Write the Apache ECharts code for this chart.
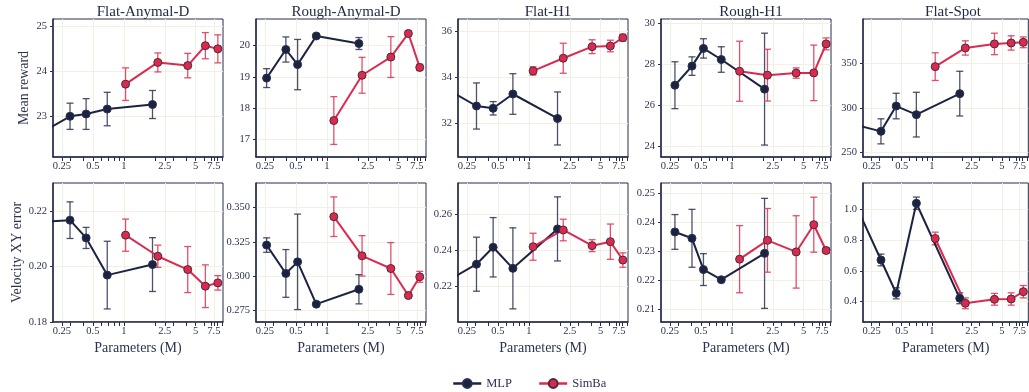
<!DOCTYPE html>
<html>
<head>
<meta charset="utf-8">
<script src="https://cdn.jsdelivr.net/npm/echarts@6/dist/echarts.min.js"></script>
<style>
  html, body { margin: 0; padding: 0; background: #fff; }
  #chart { width: 1029px; height: 392px; }
</style>
</head>
<body>
<div id="chart"></div>
<script>
const TASKS = ["Flat-Anymal-D", "Rough-Anymal-D", "Flat-H1", "Rough-H1", "Flat-Spot"];
const X_LABELS = [0.25, 0.5, 1, 2.5, 5, 7.5];
const X_TICKS = [0.2, 0.25, 0.3, 0.4, 0.5, 0.6, 0.7, 0.8, 0.9, 1, 2, 2.5, 3, 4, 5, 6, 7, 7.5, 8, 9];

// each point: [parameters (M), mean, std]
const MLP_REWARD = [
  [[0.17, 22.68, 0], [0.30, 23.00, 0.29], [0.43, 23.05, 0.34], [0.69, 23.16, 0.37], [1.9, 23.26, 0.31]],
  [[0.26, 18.96, 0.30], [0.40, 19.87, 0.40], [0.52, 19.39, 0.80], [0.79, 20.30, 0.05], [2.05, 20.06, 0.19]],
  [[0.17, 33.41, 0], [0.31, 32.74, 1.00], [0.45, 32.64, 0.29], [0.70, 33.26, 0.88], [1.9, 32.20, 1.15]],
  [[0.28, 26.99, 1.14], [0.41, 27.92, 0.45], [0.53, 28.78, 0.47], [0.79, 28.24, 0.62], [2.08, 26.80, 2.72]],
  [[0.17, 281.4, 0], [0.31, 273.9, 14], [0.44, 302.2, 14.3], [0.70, 292.6, 25], [1.9, 316.1, 25]]
];
const SIMBA_REWARD = [
  [[1.04, 23.71, 0.36], [2.14, 24.19, 0.21], [4.18, 24.12, 0.27], [6.2, 24.56, 0.29], [8.2, 24.49, 0.31]],
  [[1.17, 17.61, 0.76], [2.2, 19.05, 0.57], [4.19, 19.63, 0.65], [6.2, 20.38, 0.05], [8.0, 19.30, 0.10]],
  [[1.10, 34.26, 0.18], [2.16, 34.81, 0.65], [4.12, 35.31, 0.30], [6.2, 35.34, 0.25], [8.2, 35.70, 0.15]],
  [[1.19, 27.67, 1.46], [2.22, 27.48, 1.26], [4.22, 27.58, 0.25], [6.26, 27.59, 1.35], [8.25, 29.00, 0.29]],
  [[1.08, 346.3, 15.5], [2.16, 367.2, 8], [4.22, 371.7, 12], [6.2, 372.8, 8], [8.2, 373.5, 6]]
];
const MLP_VEL = [
  [[0.17, 0.2162, 0], [0.30, 0.2167, 0.0066], [0.43, 0.2103, 0.0038], [0.69, 0.1969, 0.0122], [1.9, 0.2007, 0.0097]],
  [[0.26, 0.3226, 0.0053], [0.40, 0.3018, 0.0175], [0.52, 0.3103, 0.035], [0.79, 0.2793, 0.001], [2.05, 0.2902, 0.0107]],
  [[0.17, 0.2236, 0], [0.31, 0.2321, 0.015], [0.45, 0.2415, 0.0165], [0.70, 0.2298, 0.0225], [1.9, 0.2517, 0.0178]],
  [[0.28, 0.2367, 0.006], [0.41, 0.2345, 0.010], [0.53, 0.2237, 0.0055], [0.79, 0.2202, 0.0005], [2.08, 0.2293, 0.019]],
  [[0.17, 1.038, 0], [0.31, 0.670, 0.038], [0.44, 0.4545, 0.036], [0.70, 1.0369, 0.04], [1.9, 0.422, 0.035]]
];
const SIMBA_VEL = [
  [[1.04, 0.2113, 0.0058], [2.14, 0.2037, 0.004], [4.18, 0.1989, 0.0083], [6.2, 0.1929, 0.0077], [8.2, 0.1941, 0.0026]],
  [[1.17, 0.3434, 0.0145], [2.2, 0.3147, 0.0148], [4.19, 0.3054, 0.019], [6.2, 0.2856, 0.001], [8.0, 0.2993, 0.004]],
  [[1.10, 0.2418, 0.0075], [2.16, 0.2511, 0.006], [4.12, 0.2424, 0.0033], [6.2, 0.2446, 0.0098], [8.2, 0.2344, 0.004]],
  [[1.19, 0.2273, 0.0116], [2.22, 0.2338, 0.011], [4.22, 0.2298, 0.0125], [6.26, 0.2392, 0.0095], [8.25, 0.2303, 0.001]],
  [[1.08, 0.809, 0.041], [2.16, 0.3896, 0.035], [4.22, 0.4155, 0.038], [6.2, 0.4175, 0.04], [8.2, 0.4647, 0.04]]
];

const Y_REWARD_TICKS = [[23, 24, 25], [17, 18, 19, 20], [32, 34, 36], [24, 26, 28, 30], [250, 300, 350]];
const Y_VEL_TICKS = [[0.18, 0.20, 0.22], [0.275, 0.300, 0.325, 0.350], [0.22, 0.24, 0.26], [0.21, 0.22, 0.23, 0.24, 0.25], [0.4, 0.6, 0.8, 1.0]];
const Y_REWARD_RANGE = [[22.1, 25.15], [16.45, 20.84], [30.53, 36.51], [23.5, 30.21], [245.2, 399.6]];
const Y_VEL_RANGE = [[0.18, 0.2301], [0.2662, 0.3681], [0.20, 0.2772], [0.2056, 0.2536], [0.2686, 1.168]];
const Y_VEL_DECIMALS = [2, 3, 2, 2, 1];

const FONT = "Liberation Serif, DejaVu Serif, serif";
const TEXT = "#2d3350";
const AXIS = "#262d48";
const GRID_LINE = "#f1f0e3";
const MLP_COLOR = "#1c2341";
const SIMBA_COLOR = "#dc2a4f";

const PANEL_LEFT = [53, 256, 458, 661, 863];
const PANEL_W = 170;
const ROWS = [{ top: 19, height: 138 }, { top: 183, height: 139 }];
const X_MIN = Math.log10(0.205);
const X_MAX = Math.log10(9.2);

const chart = echarts.init(document.getElementById("chart"));

const grids = [], xAxes = [], yAxes = [], series = [], titles = [];

function toPoints(rows) {
  return rows.map(r => [Math.log10(r[0]), r[1]]);
}

function errorBars(rows, gi, color, name) {
  return {
    type: "custom",
    name: name,
    xAxisIndex: gi * 2,
    yAxisIndex: gi,
    silent: true,
    z: 2,
    encode: { x: 0, y: [1, 2] },
    data: rows.filter(r => r[2] > 0).map(r => [Math.log10(r[0]), r[1] - r[2], r[1] + r[2]]),
    renderItem(params, api) {
      const lo = api.coord([api.value(0), api.value(1)]);
      const hi = api.coord([api.value(0), api.value(2)]);
      const w = 3.5;
      const style = { stroke: color, lineWidth: 1.3 };
      return {
        type: "group",
        children: [
          { type: "line", shape: { x1: lo[0], y1: lo[1], x2: hi[0], y2: hi[1] }, style },
          { type: "line", shape: { x1: lo[0] - w, y1: lo[1], x2: lo[0] + w, y2: lo[1] }, style },
          { type: "line", shape: { x1: hi[0] - w, y1: hi[1], x2: hi[0] + w, y2: hi[1] }, style }
        ]
      };
    }
  };
}

function lineSeries(rows, gi, name, color, border) {
  return {
    type: "line",
    name: name,
    xAxisIndex: gi * 2,
    yAxisIndex: gi,
    data: toPoints(rows),
    clip: true,
    z: 3,
    symbol: "circle",
    symbolSize: 8,
    lineStyle: { color: color, width: 2 },
    itemStyle: { color: color, borderColor: border, borderWidth: 1 },
    emphasis: { disabled: true },
    animation: false
  };
}

for (let row = 0; row < 2; row++) {
  for (let col = 0; col < 5; col++) {
    const gi = row * 5 + col;
    grids.push({
      left: PANEL_LEFT[col], top: ROWS[row].top, width: PANEL_W, height: ROWS[row].height,
      show: true, borderColor: AXIS, borderWidth: 1, backgroundColor: "transparent"
    });

    // main x axis: ticks + labels
    xAxes.push({
      type: "value", gridIndex: gi, min: X_MIN, max: X_MAX, position: "bottom",
      name: row === 1 ? "Parameters (M)" : "",
      nameLocation: "middle", nameGap: 19,
      nameTextStyle: { fontFamily: FONT, fontSize: 14, color: TEXT },
      axisLine: { show: true, onZero: false, lineStyle: { color: AXIS, width: 1.5 } },
      axisTick: { show: true, length: 4, customValues: X_TICKS.map(Math.log10), lineStyle: { color: AXIS, width: 1 } },
      axisLabel: {
        customValues: X_LABELS.map(Math.log10), margin: 4,
        fontFamily: FONT, fontSize: 10.5, color: TEXT,
        formatter: v => String(Number(Math.pow(10, v).toFixed(2)))
      },
      splitLine: { show: false }
    });
    // helper x axis: vertical grid lines at labelled values only
    xAxes.push({
      type: "value", gridIndex: gi, min: X_MIN, max: X_MAX, position: "top",
      axisLine: { show: false },
      axisTick: { show: false, customValues: X_LABELS.map(Math.log10) },
      axisLabel: { show: false },
      splitLine: { show: true, lineStyle: { color: GRID_LINE, width: 1 } }
    });

    const ticks = row === 0 ? Y_REWARD_TICKS[col] : Y_VEL_TICKS[col];
    const range = row === 0 ? Y_REWARD_RANGE[col] : Y_VEL_RANGE[col];
    const dec = row === 0 ? 0 : Y_VEL_DECIMALS[col];
    yAxes.push({
      type: "value", gridIndex: gi, min: range[0], max: range[1],
      name: col === 0 ? (row === 0 ? "Mean reward" : "Velocity XY error") : "",
      nameLocation: "middle", nameGap: row === 0 ? 22 : 28,
      nameTextStyle: { fontFamily: FONT, fontSize: 14, color: TEXT },
      axisLine: { show: true, onZero: false, lineStyle: { color: AXIS, width: 1.5 } },
      axisTick: { show: true, length: 3, customValues: ticks, lineStyle: { color: AXIS } },
      axisLabel: {
        customValues: ticks, margin: 6, fontFamily: FONT, fontSize: 10.5, color: TEXT,
        formatter: v => v.toFixed(dec)
      },
      splitLine: { show: true, lineStyle: { color: GRID_LINE, width: 1 } }
    });

    const mlp = row === 0 ? MLP_REWARD[col] : MLP_VEL[col];
    const simba = row === 0 ? SIMBA_REWARD[col] : SIMBA_VEL[col];
    series.push(errorBars(mlp, gi, "rgba(45,52,80,0.85)", "MLP err"));
    series.push(errorBars(simba, gi, "rgba(225,60,90,0.9)", "SimBa err"));
    series.push(lineSeries(mlp, gi, "MLP", MLP_COLOR, "#2a3150"));
    series.push(lineSeries(simba, gi, "SimBa", SIMBA_COLOR, "#4a2a3c"));

    if (row === 0) {
      titles.push({
        text: TASKS[col],
        left: PANEL_LEFT[col] + PANEL_W / 2, top: 0, textAlign: "center",
        textStyle: { fontFamily: FONT, fontSize: 15, fontWeight: "normal", color: "#252b45" }
      });
    }
  }
}

chart.setOption({
  animation: false,
  backgroundColor: "#ffffff",
  title: titles,
  grid: grids,
  xAxis: xAxes,
  yAxis: yAxes,
  series: series,
  legend: {
    data: ["MLP", "SimBa"],
    left: 447, top: 372,
    itemWidth: 28, itemHeight: 11, itemGap: 26,
    lineStyle: { width: 2.5 },
    textStyle: { fontFamily: FONT, fontSize: 12.5, color: TEXT }
  }
});
</script>
</body>
</html>
